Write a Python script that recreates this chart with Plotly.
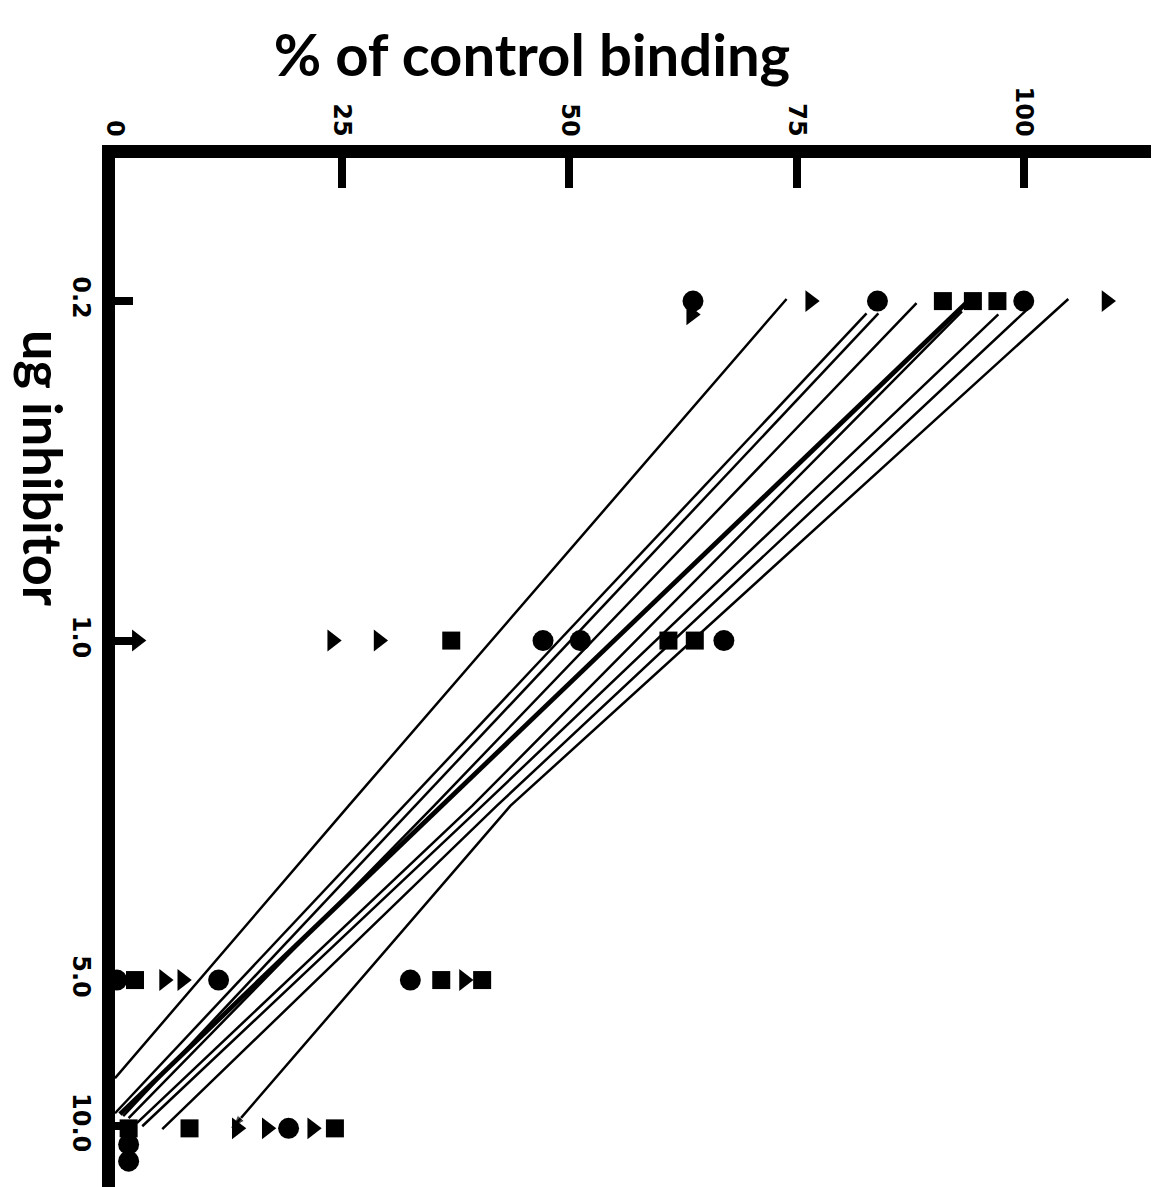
import plotly.graph_objects as go

# ---------------- data ----------------
x_ticks = [0, 25, 50, 75, 100]
x_tick_text = ["0", "25", "50", "75", "100"]
dose_ticks = [0.2, 1.0, 5.0, 10.0]
dose_tick_text = ["0.2", "1.0", "5.0", "10.0"]

circle_pct = [63.6, 83.9, 100.0, 47.1, 51.2, 67.0, 0.2, 11.4, 32.5, 1.5, 1.5, 19.1]
circle_dose = [0.2, 0.2, 0.2, 1.0, 1.0, 1.0, 5.0, 5.0, 5.0, 10.9, 11.8, 10.1]

square_pct = [91.1, 94.4, 97.1, 37.0, 60.9, 63.8, 2.2, 35.9, 40.4, 1.5, 8.2, 24.2]
square_dose = [0.2, 0.2, 0.2, 1.0, 1.0, 1.0, 5.0, 5.0, 5.0, 10.1, 10.1, 10.1]

triangle_pct = [63.4, 76.5, 109.1, 2.4, 23.9, 29.0, 5.4, 7.4, 38.4, 13.4, 16.7, 21.7]
triangle_dose = [0.213, 0.2, 0.2, 1.0, 1.0, 1.0, 5.0, 5.0, 5.0, 10.1, 10.1, 10.1]

# fitted lines: top end, middle crossing, bottom end
line_top_pct = [73.9, 82.7, 84.0, 88.2, 93.9, 93.2, 97.2, 100.5, 104.9]
line_top_dose = [0.198, 0.212, 0.212, 0.202, 0.200, 0.210, 0.213, 0.207, 0.198]
line_mid_pct = [25.7, 31.8, 33.0, 35.1, 36.0, 39.3, 40.4, 42.0, 43.5]
line_mid_dose = [2.19, 2.19, 2.19, 2.19, 2.19, 2.19, 2.19, 2.19, 2.19]
line_bot_pct = [0.0, 0.0, 0.9, 1.5, 0.55, 2.4, 3.0, 5.2, 12.9]
line_bot_dose = [7.96, 9.40, 9.53, 9.62, 9.44, 9.85, 10.0, 10.14, 10.09]
line_is_thick = [False, False, False, False, True, False, False, False, False]
line_has_arrow = [False, False, False, False, False, False, False, False, True]

# ---------------- figure ----------------
fig = go.Figure()

for i in range(len(line_top_pct)):
    xs = [line_top_pct[i], line_mid_pct[i], line_bot_pct[i]]
    ys = [line_top_dose[i], line_mid_dose[i], line_bot_dose[i]]
    if line_has_arrow[i]:
        fig.add_trace(go.Scatter(
            x=xs, y=ys, mode="lines+markers",
            line=dict(color="black", width=2.5),
            marker=dict(symbol="arrow", angleref="previous", size=[0, 0, 14],
                        color="black"),
            cliponaxis=False, showlegend=False, hoverinfo="skip"))
    else:
        fig.add_trace(go.Scatter(
            x=xs, y=ys, mode="lines",
            line=dict(color="black", width=4.8 if line_is_thick[i] else 2.5),
            cliponaxis=False, showlegend=False, hoverinfo="skip"))

fig.add_trace(go.Scatter(x=circle_pct, y=circle_dose, mode="markers",
                         marker=dict(symbol="circle", size=21, color="black"),
                         cliponaxis=False, showlegend=False))
fig.add_trace(go.Scatter(x=square_pct, y=square_dose, mode="markers",
                         marker=dict(symbol="square", size=18, color="black"),
                         cliponaxis=False, showlegend=False))
fig.add_trace(go.Scatter(x=triangle_pct, y=triangle_dose, mode="markers",
                         marker=dict(symbol="triangle-right", size=19, color="black"),
                         cliponaxis=False, showlegend=False))

tick_font = dict(family="DejaVu Sans", size=24, color="black", weight="bold")

fig.update_layout(
    width=1161, height=1187,
    paper_bgcolor="white", plot_bgcolor="white",
    margin=dict(l=107, r=18, t=150, b=2),
    title=dict(text="% of control binding", x=0.4513, xref="container",
               y=0.9599, yref="container", xanchor="center", yanchor="middle",
               font=dict(family="Lato", size=58, color="black", weight="bold")),
    xaxis=dict(range=[0, 114], side="top", showline=True, linewidth=13,
               linecolor="black", ticks="inside", ticklen=30, tickwidth=8,
               tickcolor="black", tickvals=x_ticks, ticktext=x_tick_text,
               tickangle=90, tickfont=tick_font, showgrid=False, zeroline=False),
    yaxis=dict(type="log", range=[1.1374, -0.9936], showline=True, linewidth=13,
               linecolor="black", ticks="inside", ticklen=18, tickwidth=8,
               tickcolor="black", tickvals=dose_ticks, ticktext=dose_tick_text,
               tickangle=90, tickfont=tick_font, showgrid=False, zeroline=False),
    annotations=[dict(text="ug inhibitor", textangle=90, xref="paper", yref="paper",
                      x=-0.0695, y=0.7005, xanchor="center", yanchor="middle",
                      showarrow=False,
                      font=dict(family="Lato", size=54, color="black", weight="bold"))],
)

fig.write_html("out.html")
